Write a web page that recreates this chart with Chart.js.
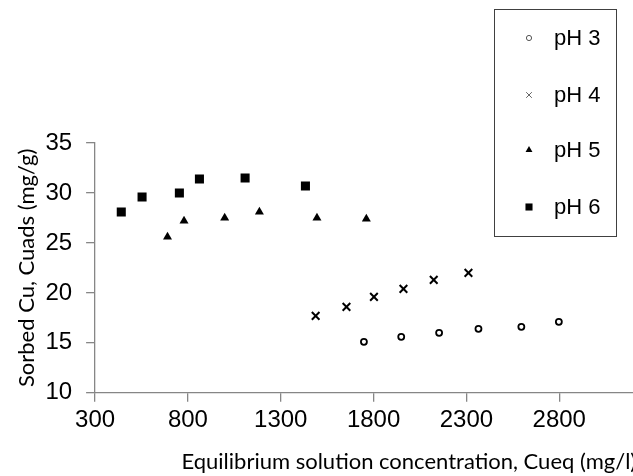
<!DOCTYPE html>
<html>
<head>
<meta charset="utf-8">
<script src="https://cdn.jsdelivr.net/npm/chart.js@4.4.0/dist/chart.umd.min.js"></script>
<style>
    html, body { margin: 0; padding: 0; background: #fff; }
    #wrap { width: 633px; height: 476px; overflow: hidden; position: relative; }
    #sorption { display: block; }
</style>
</head>
<body>
<div id="wrap">
    <canvas id="sorption" width="730" height="476"></canvas>
</div>
<script>
// Equilibrium concentration (mg/l) and sorbed Cu (mg/g) per pH
const ph3X = [1748, 1949, 2153, 2365, 2596, 2798];
const ph3Y = [15.1, 15.6, 16.0, 16.4, 16.6, 17.1];
const ph4X = [1488, 1654, 1802, 1961, 2124, 2311];
const ph4Y = [17.7, 18.6, 19.6, 20.4, 21.3, 22.0];
const ph5X = [690, 779, 998, 1185, 1495, 1761];
const ph5Y = [25.6, 27.2, 27.5, 28.1, 27.5, 27.4];
const ph6X = [441, 553, 754, 862, 1108, 1433];
const ph6Y = [28.1, 29.6, 30.0, 31.4, 31.5, 30.7];

const seriesLabels = ['pH 3', 'pH 4', 'pH 5', 'pH 6'];
const xTicks = [300, 800, 1300, 1800, 2300, 2800];
const yTicks = [10, 15, 20, 25, 30, 35];

const axisColor = '#868686';
const tickFont = { family: "'Liberation Sans', Arial, sans-serif", size: 24 };
const titleFont = { family: "Lato, 'Open Sans', sans-serif", size: 22 };

function toPoints(xs, ys) {
    return xs.map((x, i) => ({ x: x, y: ys[i] }));
}

const datasets = [
    { label: seriesLabels[0], data: toPoints(ph3X, ph3Y), pointStyle: 'circle', pointRadius: 3, pointBorderWidth: 1.8, pointBackgroundColor: '#fff', pointBorderColor: '#000' },
    { label: seriesLabels[1], data: toPoints(ph4X, ph4Y), pointStyle: 'crossRot', pointRadius: 5.4, pointBorderWidth: 2, pointBorderColor: '#000' },
    { label: seriesLabels[2], data: toPoints(ph5X, ph5Y), pointStyle: 'triangle', pointRadius: 5.2, pointBorderWidth: 0, pointBackgroundColor: '#000', pointBorderColor: '#000' },
    { label: seriesLabels[3], data: toPoints(ph6X, ph6Y), pointStyle: 'rect', pointRadius: 6.4, pointBorderWidth: 0, pointBackgroundColor: '#000', pointBorderColor: '#000' }
];

// legend sitting inside the plot, drawn by hand
const legendMarks = [
    { pointStyle: 'circle', radius: 2.6, borderWidth: 1, borderColor: '#555', backgroundColor: '#fff' },
    { pointStyle: 'crossRot', radius: 4, borderWidth: 1, borderColor: '#666', backgroundColor: '#666' },
    { pointStyle: 'triangle', radius: 4, borderWidth: 0, borderColor: '#000', backgroundColor: '#000' },
    { pointStyle: 'rect', radius: 5, borderWidth: 0, borderColor: '#000', backgroundColor: '#000' }
];
const legendRows = [38, 95, 150, 207];

const boxLegend = {
    id: 'boxLegend',
    afterDraw(chart) {
        const ctx = chart.ctx;
        ctx.save();
        ctx.strokeStyle = '#404040';
        ctx.lineWidth = 1;
        ctx.strokeRect(494.5, 9.5, 122, 227);
        chart.data.datasets.forEach((ds, i) => {
            const m = legendMarks[i];
            ctx.fillStyle = m.backgroundColor;
            ctx.strokeStyle = m.borderColor;
            ctx.lineWidth = m.borderWidth || 0.001;
            Chart.helpers.drawPoint(ctx, {
                pointStyle: m.pointStyle, radius: m.radius, rotation: 0, borderWidth: m.borderWidth
            }, 529, legendRows[i]);
            ctx.font = "22px 'Liberation Sans', Arial, sans-serif";
            ctx.fillStyle = '#000';
            ctx.textBaseline = 'middle';
            ctx.fillText(ds.label, 554, legendRows[i] + 1);
        });
        ctx.restore();
    }
};

new Chart(document.getElementById('sorption'), {
    type: 'scatter',
    data: { datasets: datasets },
    options: {
        responsive: false,
        animation: false,
        layout: { padding: { top: 143, left: 14, right: 0, bottom: 1 } },
        plugins: {
            legend: { display: false },
            tooltip: { enabled: false }
        },
        scales: {
            x: {
                type: 'linear',
                min: 300,
                max: 3680,
                afterBuildTicks: axis => {
                    axis.ticks = xTicks.map(v => ({ value: v }));
                },
                ticks: { font: tickFont, color: '#000', padding: 4, maxRotation: 0, autoSkip: false, callback: v => String(v) },
                grid: { drawOnChartArea: false, tickLength: 9, color: axisColor, lineWidth: 1.3 },
                border: { color: axisColor, width: 1.3 },
                title: {
                    display: true,
                    text: 'Equilibrium solution concentration, Cueq (mg/l)',
                    font: titleFont,
                    color: '#000',
                    padding: { top: 10, bottom: 0 }
                }
            },
            y: {
                min: 10,
                max: 35,
                afterBuildTicks: axis => {
                    axis.ticks = yTicks.map(v => ({ value: v }));
                },
                ticks: { font: tickFont, color: '#000', padding: 14, callback: v => String(v) },
                grid: { drawOnChartArea: false, tickLength: 9, color: axisColor, lineWidth: 1.3 },
                border: { color: axisColor, width: 1.3 },
                title: {
                    display: true,
                    text: 'Sorbed Cu, Cuads (mg/g)',
                    font: titleFont,
                    color: '#000',
                    padding: { top: 0, bottom: -9 }
                }
            }
        }
    },
    plugins: [boxLegend]
});
</script>
</body>
</html>
